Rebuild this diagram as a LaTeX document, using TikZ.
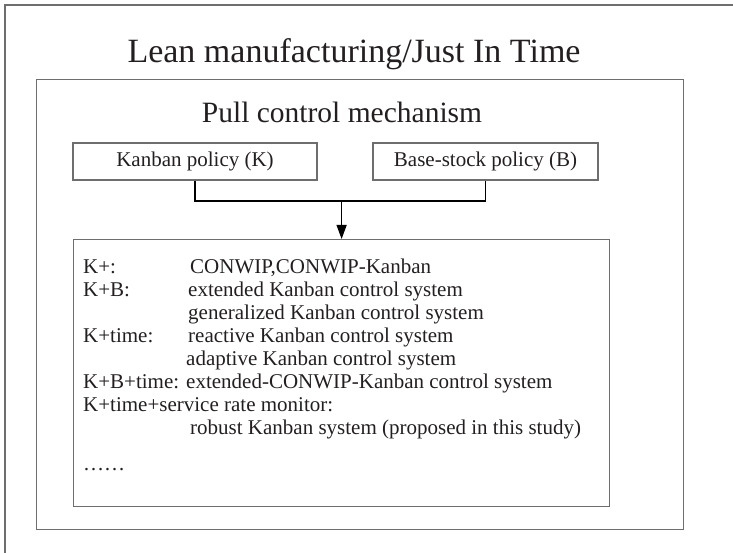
\documentclass[tikz,border=0pt]{standalone}
\usepackage{fontspec}
\setmainfont{Liberation Serif}
\usetikzlibrary{arrows.meta}
\definecolor{frame}{HTML}{6E6E6E}
\definecolor{ink}{HTML}{231F20}
\tikzset{
  boxline/.style={draw=frame, line width=1.2pt},
  policy/.style={boxline, minimum height=37pt, inner sep=0pt, font=\fontsize{21}{21}\selectfont, text=ink},
  listtxt/.style={anchor=base west, inner sep=0pt, font=\fontsize{21}{21}\selectfont, text=ink},
  conn/.style={draw=black, line width=1.2pt},
}
\begin{document}
\begin{tikzpicture}[x=1pt,y=-1pt]
\useasboundingbox (0,0) rectangle (733,553);
% outer frame (cropped)
\draw[boxline] (5,553) -- (5,5) -- (733,5);
% inner frame
\node[boxline, anchor=north west, minimum width=647pt, minimum height=450pt, inner sep=0pt] (inner) at (36,79) {};
\node[anchor=base, inner sep=0pt, font=\fontsize{34}{34}\selectfont, text=ink] (title) at (354,63) {Lean manufacturing/Just In Time};
\node[anchor=base, inner sep=0pt, font=\fontsize{29.5}{29.5}\selectfont, text=ink] (pull) at (342,123) {Pull control mechanism};
\node[policy, minimum width=244pt] (kan) at (195,161.5) {Kanban policy (K)};
\node[policy, minimum width=225pt] (base) at (485.5,161.5) {Base-stock policy (B)};
\node[boxline, anchor=north west, minimum width=536pt, minimum height=267pt, inner sep=0pt] (list) at (73,239) {};
\coordinate (join) at (list.north |- 0,201);
\draw[conn] (kan.south) |- (base.south |- join) -- (base.south);
\draw[conn, -{Triangle[length=14pt,width=10pt]}] (join) -- (list.north);
% list lines
\node[listtxt] (l1a) at (83,273) {K+:};
\node[listtxt] (l1b) at (190,273) {CONWIP,CONWIP-Kanban};
\node[listtxt] (l2a) at (83,296) {K+B:};
\node[listtxt] (l2b) at (188,296) {extended Kanban control system};
\node[listtxt] (l3b) at (188,319) {generalized Kanban control system};
\node[listtxt] (l4a) at (83,342) {K+time:};
\node[listtxt] (l4b) at (188,342) {reactive Kanban control system};
\node[listtxt] (l5b) at (186,365) {adaptive Kanban control system};
\node[listtxt] (l6a) at (83,388) {K+B+time: extended-CONWIP-Kanban control system};
\node[listtxt] (l7a) at (83,411) {K+time+service rate monitor:};
\node[listtxt] (l8b) at (190,434) {robust Kanban system (proposed in this study)};
\node[listtxt] (l9a) at (83,470) {……};
\end{tikzpicture}
\end{document}
